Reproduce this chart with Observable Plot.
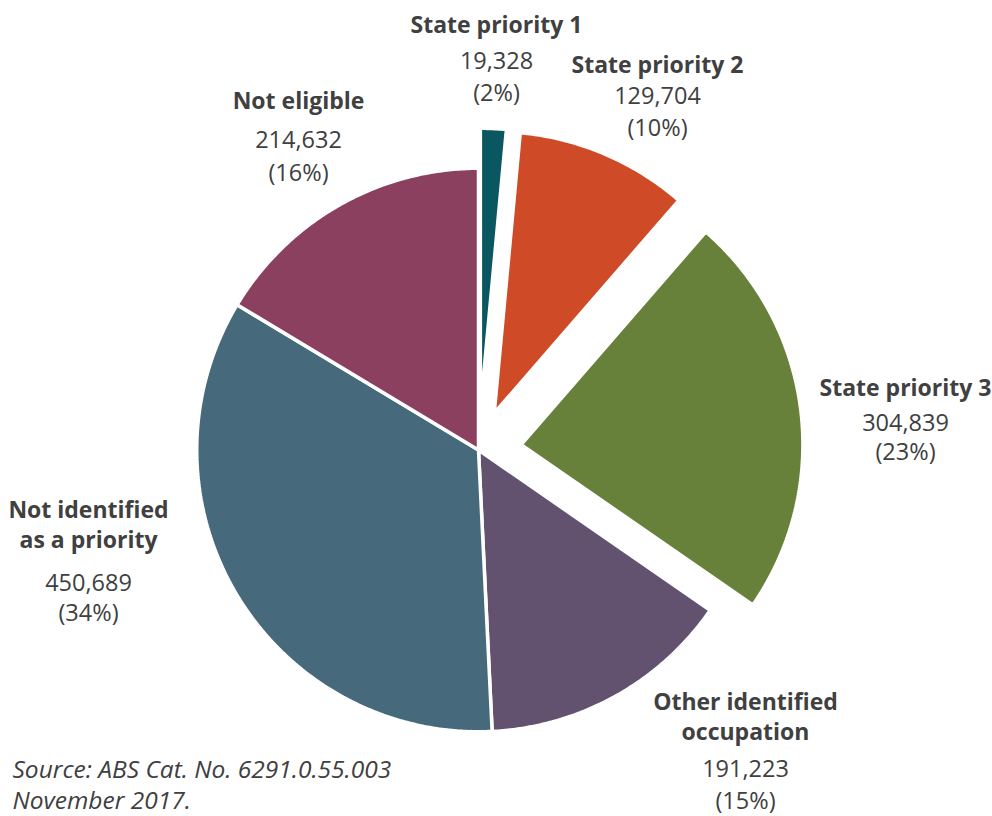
<!DOCTYPE html>
<html>
<head>
<meta charset="utf-8">
<script src="https://cdn.jsdelivr.net/npm/d3@7"></script>
<script src="https://cdn.jsdelivr.net/npm/@observablehq/plot@0.6"></script>
<style>
  html, body { margin: 0; padding: 0; background: #ffffff; }
  #chart { width: 992px; height: 816px; }
</style>
</head>
<body>
<div id="chart"></div>
<script>
// ---------------- DATA ----------------
const categories = [
  "State priority 1",
  "State priority 2",
  "State priority 3",
  "Other identified occupation",
  "Not identified as a priority",
  "Not eligible"
];
const values = [19328, 129704, 304839, 191223, 450689, 214632];
const percents = [2, 10, 23, 15, 34, 16];
const nameLines = [
  ["State priority 1"],
  ["State priority 2"],
  ["State priority 3"],
  ["Other identified", "occupation"],
  ["Not identified", "as a priority"],
  ["Not eligible"]
];
const sourceLines = ["Source: ABS Cat. No. 6291.0.55.003", "November 2017."];

// ---------------- STYLE / LAYOUT ----------------
const colors = ["#0b5761", "#cf4b27", "#67813a", "#62516f", "#46697c", "#8b405f"];
const explodePx = [40, 40, 43, 0, 0, 0];
const W = 992, H = 816, CX = 478, CY = 449.5, R = 280, SW = 3.5;
const textColor = "#404040";
// label layout in pixels: centre x, title baselines, value baseline, percent baseline
const labelLayout = [
  {x: 496, title: [32], value: 68, pct: 100},
  {x: 657, title: [72], value: 103, pct: 135},
  {x: 905, title: [395], value: 430, pct: 459},
  {x: 745, title: [709, 739], value: 776, pct: 808},
  {x: 88,  title: [517, 547], value: 590, pct: 620},
  {x: 298, title: [108], value: 147, pct: 180}
];
const sourceLayout = {x: 12, baselines: [777, 808]};

// pixel -> chart units (centre at 0,0, radius 1, y up)
const ux = px => (px - CX) / R;
const uy = py => (CY - py) / R;

// ---------------- PIE GEOMETRY ----------------
const arcs = d3.pie().sort(null).value(d => d).startAngle(0).endAngle(2 * Math.PI)(values);
const rOuter = (R + SW / 2) / R;
const slicePts = [];
arcs.forEach((a, i) => {
  const mid = (a.startAngle + a.endAngle) / 2;
  const off = explodePx[i] / R;
  const ox = off * Math.sin(mid), oy = off * Math.cos(mid);
  const cat = categories[i];
  slicePts.push({cat, x: ox, y: oy});
  const n = Math.max(2, Math.ceil((a.endAngle - a.startAngle) / (Math.PI / 360)));
  for (let k = 0; k <= n; k++) {
    const t = a.startAngle + (a.endAngle - a.startAngle) * k / n;
    slicePts.push({cat, x: ox + rOuter * Math.sin(t), y: oy + rOuter * Math.cos(t)});
  }
});

// ---------------- LABELS ----------------
const fmt = d3.format(",");
const titleRows = [], valueRows = [];
categories.forEach((c, i) => {
  const L = labelLayout[i];
  nameLines[i].forEach((line, j) => titleRows.push({x: ux(L.x), y: uy(L.title[j]), text: line}));
  valueRows.push({x: ux(L.x), y: uy(L.value), text: fmt(values[i])});
  valueRows.push({x: ux(L.x), y: uy(L.pct), text: `(${percents[i]}%)`});
});
const sourceRows = sourceLines.map((t, j) => ({x: ux(sourceLayout.x), y: uy(sourceLayout.baselines[j]), text: t}));

const font = "'Open Sans', 'Noto Sans', sans-serif";

const chart = Plot.plot({
  width: W,
  height: H,
  margin: 0,
  x: {domain: [ux(0), ux(W)], range: [0, W], axis: null},
  y: {domain: [uy(H), uy(0)], range: [H, 0], axis: null},
  color: {domain: categories, range: colors},
  style: {fontFamily: font, background: "#ffffff"},
  marks: [
    Plot.line(slicePts, {
      x: "x", y: "y", z: "cat", fill: "cat",
      stroke: "#ffffff", strokeWidth: SW, curve: "linear-closed", strokeLinejoin: "miter"
    }),
    Plot.text(titleRows, {
      x: "x", y: "y", text: "text", textAnchor: "middle", lineAnchor: "bottom",
      fontSize: 23, fontWeight: 700, fill: textColor, fontFamily: font
    }),
    Plot.text(valueRows, {
      x: "x", y: "y", text: "text", textAnchor: "middle", lineAnchor: "bottom",
      fontSize: 23.5, fontWeight: 400, fill: textColor, fontFamily: font
    }),
    Plot.text(sourceRows, {
      x: "x", y: "y", text: "text", textAnchor: "start", lineAnchor: "bottom",
      fontSize: 24.5, fontStyle: "italic", fill: textColor, fontFamily: font
    })
  ]
});
document.getElementById("chart").appendChild(chart);
</script>
</body>
</html>
